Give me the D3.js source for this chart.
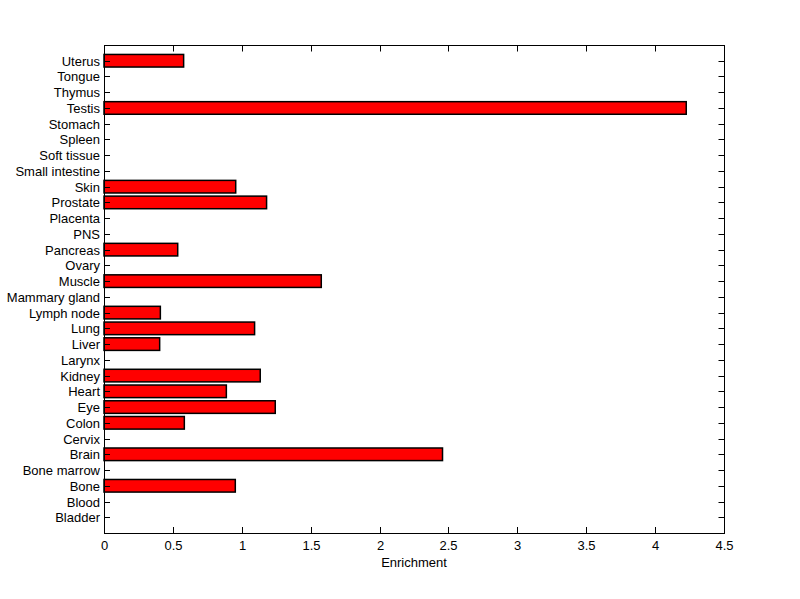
<!DOCTYPE html>
<meta charset="utf-8">
<style>
body { margin: 0; background: #fff; }
svg text { font-family: "Liberation Sans", Arial, sans-serif; font-size: 13px; fill: #000; }
</style>
<svg width="800" height="599"></svg>
<script src="https://d3js.org/d3.v7.min.js"></script>
<script>

// categories from bottom to top
var tissues = ["Bladder", "Blood", "Bone", "Bone marrow", "Brain", "Cervix", "Colon", "Eye",
  "Heart", "Kidney", "Larynx", "Liver", "Lung", "Lymph node", "Mammary gland", "Muscle",
  "Ovary", "Pancreas", "PNS", "Placenta", "Prostate", "Skin", "Small intestine",
  "Soft tissue", "Spleen", "Stomach", "Testis", "Thymus", "Tongue", "Uterus"];
var enrichment = [0, 0, 0.953, 0, 2.457, 0, 0.583, 1.243,
  0.888, 1.134, 0, 0.404, 1.093, 0.409, 0, 1.577,
  0, 0.535, 0, 0, 1.18, 0.956, 0,
  0, 0, 0, 4.226, 0, 0, 0.578];
var xTicks = [0, 0.5, 1, 1.5, 2, 2.5, 3, 3.5, 4, 4.5];

var svg = d3.select("svg");
var pLeft = 104, pRight = 724, pTop = 45, pBottom = 533;

var x = d3.scaleLinear().domain([0, 4.5]).range([pLeft, pRight]);
var y = d3.scaleLinear().domain([0, 31]).range([pBottom, pTop]);
var barH = y(0) - y(0.8);
var tick = 6;

// bars
svg.append("g").selectAll("rect")
    .data(tissues.map(function(t, i) { return {name: t, pos: i + 1, val: enrichment[i]}; })
                 .filter(function(d) { return d.val > 0; }))
  .enter().append("rect")
    .attr("x", x(0))
    .attr("y", function(d) { return y(d.pos) - barH / 2; })
    .attr("width", function(d) { return x(d.val) - x(0); })
    .attr("height", barH)
    .attr("fill", "#ff0000")
    .attr("stroke", "#000")
    .attr("stroke-width", 1.5);

// box
svg.append("rect")
    .attr("x", pLeft + 0.5).attr("y", pTop + 0.5)
    .attr("width", pRight - pLeft).attr("height", pBottom - pTop)
    .attr("fill", "none").attr("stroke", "#000");

// y axis ticks + labels
var ya = svg.append("g");
tissues.forEach(function(t, i) {
  var yy = Math.round(y(i + 1)) + 0.5;
  ya.append("line").attr("x1", pLeft).attr("x2", pLeft + tick)
    .attr("y1", yy).attr("y2", yy).attr("stroke", "#000");
  ya.append("line").attr("x1", pRight + 0.5).attr("x2", pRight + 0.5 - tick)
    .attr("y1", yy).attr("y2", yy).attr("stroke", "#000");
  ya.append("text").attr("x", pLeft - 4).attr("y", yy)
    .attr("dy", "0.35em").attr("text-anchor", "end").text(t);
});

// x axis ticks + labels
var xa = svg.append("g");
xTicks.forEach(function(v) {
  var xx = Math.round(x(v)) + 0.5;
  xa.append("line").attr("x1", xx).attr("x2", xx)
    .attr("y1", pBottom).attr("y2", pBottom - tick).attr("stroke", "#000");
  xa.append("line").attr("x1", xx).attr("x2", xx)
    .attr("y1", pTop + 0.5).attr("y2", pTop + 0.5 + tick).attr("stroke", "#000");
  xa.append("text").attr("x", xx).attr("y", pBottom + 17)
    .attr("text-anchor", "middle").text(v);
});

svg.append("text")
    .attr("x", (pLeft + pRight) / 2).attr("y", pBottom + 34)
    .attr("text-anchor", "middle").text("Enrichment");

</script>
